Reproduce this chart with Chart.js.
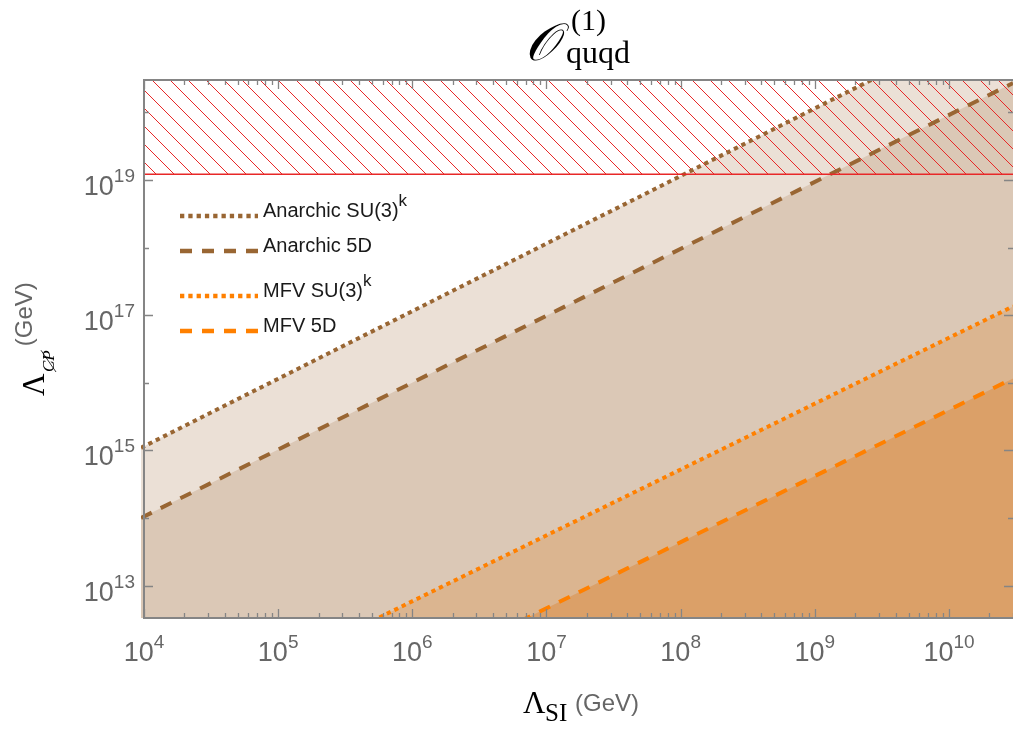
<!DOCTYPE html>
<html>
<head>
<meta charset="utf-8">
<script src="https://cdn.jsdelivr.net/npm/chart.js@4.4.0/dist/chart.umd.min.js"></script>
<style>
  html, body { margin: 0; padding: 0; background: #fff; }
  #wrap { width: 1013px; height: 729px; position: relative; }
</style>
</head>
<body>
<div id="wrap"><canvas id="chartCanvas"></canvas></div>
<script>
// ==========================================
// Data (GeV)
// ==========================================
const anarchicSU3X = [9.5e3, 3.0e10];
const anarchicSU3Y = [1.09e15, 3.44e21];
const anarchic5DX = [9.5e3, 3.0e10];
const anarchic5DY = [1.0e14, 2.72e20];
const mfvSU3X = [5.0e5, 3.0e10];
const mfvSU3Y = [2.98e12, 1.35e17];
const mfv5DX = [6.3e6, 3.0e10];
const mfv5DY = [2.94e12, 1.16e16];
const planckX = [1e4, 3.0e10];
const planckY = [1.22e19, 1.22e19];

const xTickExponents = [4, 5, 6, 7, 8, 9, 10];
const yLabelExponents = [13, 15, 17, 19];
const yMinorExponents = [14, 16, 18, 20];
const legendLabels = [["Anarchic SU(3)", "k"], ["Anarchic 5D", ""], ["MFV SU(3)", "k"], ["MFV 5D", ""]];

const X_MIN = 9.5e3, X_MAX = 3.0e10;
const Y_MIN = 3.31e12, Y_MAX = 3.02e20;

const BROWN = "rgb(153,102,51)";
const ORANGE = "rgb(255,128,0)";
const DOT = [4.3, 4];
const DASH = [12, 10];

const pts = (xs, ys) => xs.map((x, i) => ({ x: x, y: ys[i] }));

// ==========================================
// Hatch pattern for the region above the Planck scale
// ==========================================
const canvas = document.getElementById("chartCanvas");
function makeHatch() {
    const s = 18;
    const c = document.createElement("canvas");
    c.width = s; c.height = s;
    const g = c.getContext("2d");
    g.strokeStyle = "rgb(232,40,40)";
    g.lineWidth = 1;
    for (const k of [-1, 0, 1]) {
        g.beginPath();
        g.moveTo(k * s, 0);
        g.lineTo(k * s + s, s);
        g.stroke();
    }
    return canvas.getContext("2d").createPattern(c, "repeat");
}

// ==========================================
// Frame, ticks, labels, legend, titles
// ==========================================
function supText(ctx, x, y, base, exp, baseFont, expFont, expRise, align) {
    ctx.font = baseFont;
    const wb = ctx.measureText(base).width;
    ctx.font = expFont;
    const we = ctx.measureText(exp).width;
    let x0 = x;
    if (align === "center") x0 = x - (wb + we) / 2;
    if (align === "right") x0 = x - (wb + we);
    ctx.textAlign = "left";
    ctx.font = baseFont;
    ctx.fillText(base, x0, y);
    ctx.font = expFont;
    ctx.fillText(exp, x0 + wb, y - expRise);
}

const framePlugin = {
    id: "frame",
    afterDraw(chart) {
        const ctx = chart.ctx;
        const xs = chart.scales.x, ys = chart.scales.y;
        const ca = chart.chartArea;
        const left = xs.getPixelForValue(1e4);
        const right = ca.right, top = ca.top, bottom = ca.bottom;

        ctx.save();
        ctx.strokeStyle = "#858585";
        ctx.lineWidth = 2;
        ctx.beginPath();
        ctx.moveTo(left, top); ctx.lineTo(right, top);
        ctx.moveTo(left, top - 1); ctx.lineTo(left, bottom + 1);
        ctx.moveTo(left, bottom); ctx.lineTo(right, bottom);
        ctx.stroke();

        // x ticks (bottom and top, inward)
        ctx.lineWidth = 1.3;
        ctx.beginPath();
        for (let e = 4; e <= 10; e++) {
            for (let m = 1; m <= 9; m++) {
                const v = m * Math.pow(10, e);
                if (v > X_MAX) break;
                const px = Math.round(xs.getPixelForValue(v)) + 0.5;
                const len = m === 1 ? 9 : 5;
                ctx.moveTo(px, bottom); ctx.lineTo(px, bottom - len);
                ctx.moveTo(px, top); ctx.lineTo(px, top + len);
            }
        }
        // y ticks (left and right, inward)
        yLabelExponents.concat(yMinorExponents).forEach(e => {
            const py = Math.round(ys.getPixelForValue(Math.pow(10, e))) + 0.5;
            const len = yLabelExponents.includes(e) ? 9 : 5;
            ctx.moveTo(left, py); ctx.lineTo(left + len, py);
            ctx.moveTo(right, py); ctx.lineTo(right - len, py);
        });
        ctx.stroke();

        // tick labels
        ctx.fillStyle = "#666";
        ctx.textBaseline = "alphabetic";
        xTickExponents.forEach(e => {
            const px = xs.getPixelForValue(Math.pow(10, e));
            supText(ctx, px, bottom + 43, "10", String(e), "27px 'Liberation Sans'", "19px 'Liberation Sans'", 13, "center");
        });
        yLabelExponents.forEach(e => {
            const py = ys.getPixelForValue(Math.pow(10, e));
            supText(ctx, left - 9, py + 15, "10", String(e), "27px 'Liberation Sans'", "19px 'Liberation Sans'", 13, "right");
        });

        // legend
        const legendY = [216, 251, 296, 331];
        chart.data.datasets.slice(1).forEach((ds, i) => {
            const y = legendY[i];
            ctx.strokeStyle = ds.borderColor;
            ctx.lineWidth = 4.5;
            ctx.lineCap = "butt";
            ctx.setLineDash(ds.borderDash);
            ctx.beginPath();
            ctx.moveTo(180, y); ctx.lineTo(258, y);
            ctx.stroke();
            ctx.setLineDash([]);
            ctx.fillStyle = "#1a1a1a";
            supText(ctx, 263, y + 1, legendLabels[i][0], legendLabels[i][1], "20px 'Liberation Sans'", "17px 'Liberation Sans'", 11, "left");
        });

        // title
        ctx.fillStyle = "#000";
        ctx.textAlign = "left";
        ctx.font = "italic 52px 'DejaVu Serif', 'Liberation Serif'";
        ctx.fillText("\uD835\uDCAA", 525, 60);
        ctx.font = "30px 'Liberation Serif'";
        ctx.fillText("(1)", 571, 30);
        ctx.font = "32px 'Liberation Serif'";
        ctx.fillText("quqd", 566, 63);

        // x axis title
        ctx.font = "31px 'Liberation Serif'";
        ctx.fillText("\u039B", 523, 713);
        ctx.font = "25px 'Liberation Serif'";
        ctx.fillText("SI", 545, 721);
        ctx.fillStyle = "#666";
        ctx.font = "24px 'Liberation Sans'";
        ctx.fillText("(GeV)", 575, 711);

        // y axis title (rotated)
        ctx.translate(44, 396);
        ctx.rotate(-Math.PI / 2);
        ctx.fillStyle = "#000";
        ctx.font = "31px 'Liberation Serif'";
        ctx.fillText("\u039B", 0, 0);
        ctx.font = "italic 17px 'Liberation Serif'";
        const wcp = ctx.measureText("CP").width;
        ctx.fillText("CP", 24, 10);
        ctx.strokeStyle = "#000";
        ctx.lineWidth = 0.8;
        ctx.beginPath();
        ctx.moveTo(24, 12); ctx.lineTo(24 + wcp, -3);
        ctx.stroke();
        ctx.fillStyle = "#666";
        ctx.font = "24px 'Liberation Sans'";
        ctx.fillText("(GeV)", 24 + wcp + 4, -12);
        ctx.restore();
    }
};

// ==========================================
// Chart
// ==========================================
const chart = new Chart(canvas.getContext("2d"), {
    type: "line",
    data: {
        datasets: [
            {
                label: "Planck",
                data: pts(planckX, planckY),
                borderColor: "rgb(232,40,40)",
                borderWidth: 1.5,
                backgroundColor: makeHatch(),
                fill: "end",
                borderDash: []
            },
            {
                label: "Anarchic SU(3)^k",
                data: pts(anarchicSU3X, anarchicSU3Y),
                borderColor: BROWN,
                backgroundColor: "rgba(153,102,51,0.2)",
                borderDash: DOT,
                fill: "start"
            },
            {
                label: "Anarchic 5D",
                data: pts(anarchic5DX, anarchic5DY),
                borderColor: BROWN,
                backgroundColor: "rgba(153,102,51,0.2)",
                borderDash: DASH,
                fill: "start"
            },
            {
                label: "MFV SU(3)^k",
                data: pts(mfvSU3X, mfvSU3Y),
                borderColor: ORANGE,
                backgroundColor: "rgba(255,128,0,0.23)",
                borderDash: DOT,
                fill: "start"
            },
            {
                label: "MFV 5D",
                data: pts(mfv5DX, mfv5DY),
                borderColor: ORANGE,
                backgroundColor: "rgba(255,128,0,0.32)",
                borderDash: DASH,
                fill: "start"
            }
        ]
    },
    options: {
        responsive: true,
        maintainAspectRatio: false,
        animation: false,
        layout: { padding: { left: 141, top: 80, right: 0, bottom: 111 } },
        elements: {
            line: { borderWidth: 4, tension: 0, borderCapStyle: "butt" },
            point: { radius: 0 }
        },
        scales: {
            x: { type: "logarithmic", min: X_MIN, max: X_MAX, display: false },
            y: { type: "logarithmic", min: Y_MIN, max: Y_MAX, display: false }
        },
        plugins: {
            legend: { display: false },
            tooltip: { enabled: false },
            filler: { drawTime: "beforeDatasetsDraw" }
        }
    },
    plugins: [framePlugin]
});
</script>
</body>
</html>
